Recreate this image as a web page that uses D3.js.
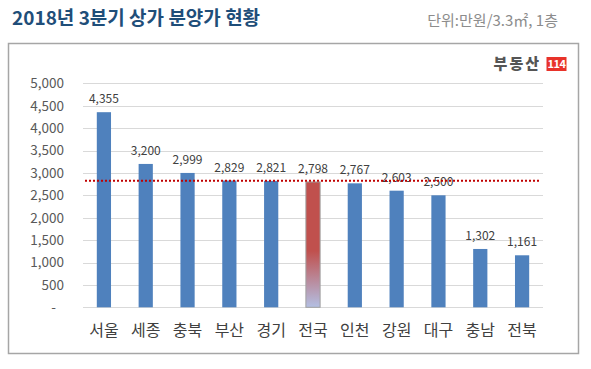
<!DOCTYPE html>
<html><head><meta charset="utf-8">
<script src="https://cdn.jsdelivr.net/npm/d3@7"></script>
<style>body{margin:0;background:#fff}svg{display:block}</style>
</head><body><svg id="c" width="591" height="369"></svg>
<script>
const categories = ["서울","세종","충북","부산","경기","전국","인천","강원","대구","충남","전북"];
const values = [4355,3200,2999,2829,2821,2798,2767,2603,2500,1302,1161];
const highlight = "전국";
const refLineValue = 2825;
const yTicks = [0,500,1000,1500,2000,2500,3000,3500,4000,4500,5000];
const titleText = "2018년 3분기 상가 분양가 현황";
const unitText = "단위:만원/3.3㎡, 1층";

const font = "'Noto Sans CJK KR','Noto Sans',sans-serif";
const svg = d3.select("#c");
const W = 591, H = 369;
const m = {left:83, right:48, top:83.3, bottom:61.7};

const defs = svg.append("defs");
const g1 = defs.append("linearGradient").attr("id","hg").attr("x1",0).attr("y1",0).attr("x2",0).attr("y2",1);
g1.append("stop").attr("offset","0%").attr("stop-color","#c0504d");
g1.append("stop").attr("offset","55%").attr("stop-color","#c0504d");
g1.append("stop").attr("offset","100%").attr("stop-color","#b3bfe3");

// title
svg.append("text").attr("x",12).attr("y",24.5).text(titleText)
  .attr("font-family",font).attr("font-weight","bold").attr("font-size",19).attr("fill","#1f4e79");
svg.append("text").attr("x",558).attr("y",26).attr("text-anchor","end").text(unitText)
  .attr("font-family",font).attr("font-size",15).attr("fill","#8c8c8c");

// frame
svg.append("rect").attr("x",8.5).attr("y",43.5).attr("width",570).attr("height",310)
  .attr("fill","none").attr("stroke","#a6a6a6").attr("stroke-width",1.5);

// logo
const lg = svg.append("g");
lg.append("text").attr("x",541).attr("y",69).attr("text-anchor","end").text("부동산")
  .attr("font-family",font).attr("font-weight","900").attr("font-size",15).attr("fill","#555").attr("letter-spacing","2");
lg.append("rect").attr("x",546.5).attr("y",57).attr("width",20).attr("height",14).attr("fill","#e8332a");
lg.append("text").attr("x",556.5).attr("y",68).attr("text-anchor","middle").text("114")
  .attr("font-family",font).attr("font-weight","bold").attr("font-size",11).attr("letter-spacing","-0.5").attr("fill","#fff");

const x = d3.scaleBand().domain(categories).range([m.left, W-m.right]).paddingInner(0.66).paddingOuter(0.33);
const y = d3.scaleLinear().domain([0,5000]).range([H-m.bottom, m.top]);

// gridlines
svg.append("g").selectAll("line").data(yTicks).join("line")
  .attr("x1",m.left).attr("x2",W-m.right)
  .attr("y1",d=>Math.round(y(d))+0.5).attr("y2",d=>Math.round(y(d))+0.5)
  .attr("stroke","#d9d9d9").attr("stroke-width",1);

// y axis labels
const yAxis = d3.axisLeft(y).tickValues(yTicks).tickSize(0).tickPadding(0)
  .tickFormat(d=> d===0 ? "-" : d3.format(",")(d));
const ya = svg.append("g").attr("transform",`translate(${m.left-19},0)`).call(yAxis);
ya.select(".domain").remove();
ya.selectAll("text").attr("font-family",font).attr("font-size",13.5).attr("fill","#595959");
ya.selectAll(".tick").filter(d=>d===0).select("text").attr("dx",-8);

// bars
const data = categories.map((c,i)=>({c, v:values[i]}));
svg.append("g").selectAll("rect").data(data).join("rect")
  .attr("x",d=>x(d.c)).attr("width",x.bandwidth())
  .attr("y",d=>y(d.v)).attr("height",d=>y(0)-y(d.v))
  .attr("fill",d=>d.c===highlight?"url(#hg)":"#4f81bd")
  .attr("stroke",d=>d.c===highlight?"#a0a0a0":"none").attr("stroke-width",1);

// value labels
svg.append("g").selectAll("text").data(data).join("text")
  .attr("x",d=>x(d.c)+x.bandwidth()/2).attr("y",d=>y(d.v)-9)
  .attr("text-anchor","middle").text(d=>d3.format(",")(d.v))
  .attr("font-family",font).attr("font-size",12).attr("fill","#404040");

// category axis
const xa = svg.append("g").attr("transform",`translate(0,${y(0)})`)
  .call(d3.axisBottom(x).tickSize(0).tickPadding(17));
xa.select(".domain").remove();
xa.selectAll("text").attr("font-family",font).attr("font-size",16).attr("fill","#404040");

// reference line
svg.append("line").attr("x1",m.left+2).attr("x2",W-m.right-2)
  .attr("y1",y(refLineValue)).attr("y2",y(refLineValue))
  .attr("stroke","#c00000").attr("stroke-width",2).attr("stroke-dasharray","2,2");
</script></body></html>
